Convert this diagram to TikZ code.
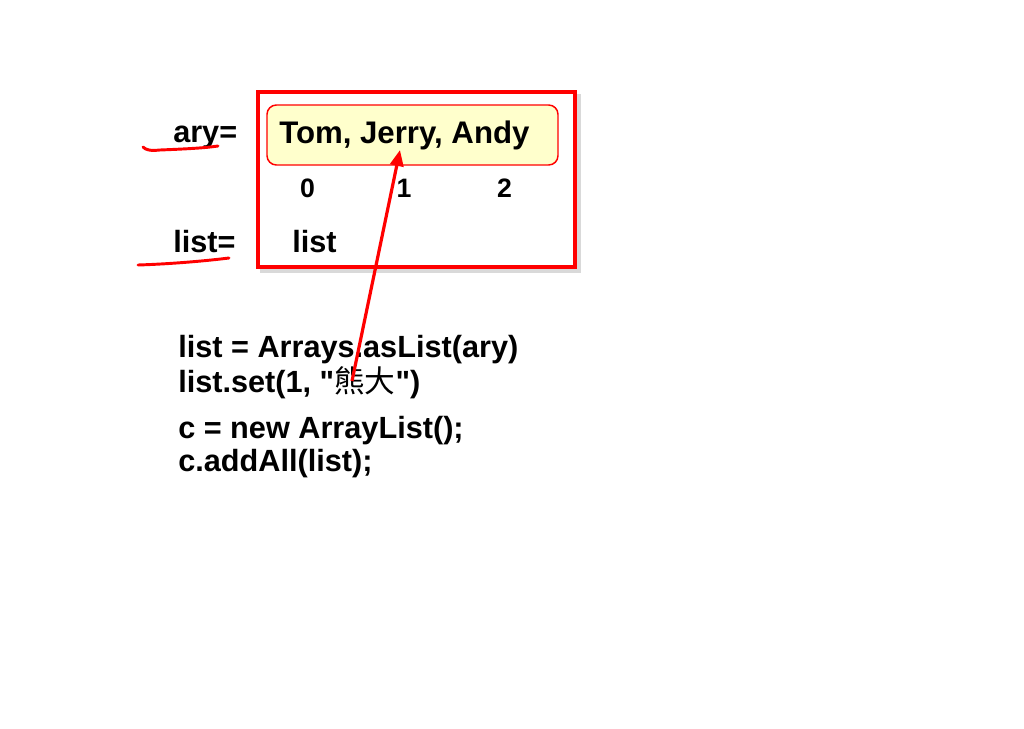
\documentclass[tikz,border=0pt]{standalone}
\usepackage{fontspec}
\setmainfont{Liberation Sans}
\newfontfamily\plainsans{Liberation Sans}
\newfontfamily\cjk{Noto Sans CJK TC}
\usetikzlibrary{arrows.meta}
\definecolor{boxyellow}{HTML}{FFFFCC}
\tikzset{
  big/.style={font=\bfseries\fontsize{23}{27}\selectfont, inner sep=0pt},
  idx/.style={font=\bfseries\fontsize{20}{24}\selectfont, inner sep=0pt, anchor=base},
  frame/.style={draw=red, line width=3pt},
  shadowline/.style={draw=black!15, line width=3pt},
  arrbox/.style={draw=red, line width=1.1pt, fill=boxyellow, rounded corners=7pt},
  pen/.style={red, line width=2.2pt, line cap=round},
  pointer/.style={red, line width=2.4pt, -{Triangle[length=12pt,width=10pt]}}
}
\begin{document}
\begin{tikzpicture}[x=0.75pt,y=-0.75pt]
\useasboundingbox[fill=white] (0,0) rectangle (1024,728);
% outer frame with faint shadow
\draw[shadowline] (261.5,95.5) rectangle (578.5,270.5);
\draw[frame, fill=white] (258,92) rectangle (575,267);
% array box
\draw[arrbox] (267,105) rectangle (558,165);
\node[big, anchor=base west, font=\bfseries\fontsize{23.4}{27}\selectfont] (tom) at (279,143) {Tom, Jerry, Andy};
% indices
\node[idx] (i0) at (307.5,197) {0};
\node[idx] (i1) at (404,197) {1};
\node[idx] (i2) at (504.5,197) {2};
% labels
\node[big, anchor=base west] (ary) at (173,142) {ary=};
\node[big, anchor=base west] (lst) at (173,252) {list=};
\node[big, anchor=base west] (lstv) at (292,252) {list};
% code
\node[big, anchor=base west] (c1) at (178,357) {list = Arrays.asList(ary)};
\node[big, anchor=base west] (c2) at (178,392) {\plainsans\bfseries list.set(1, "{\cjk\mdseries 熊大}")};
\node[big, anchor=base west] (c3) at (178,438) {c = new ArrayList();};
\node[big, anchor=base west] (c4) at (178,471) {c.addAll(list);};
% handwritten underlines
\draw[pen] (143,147) .. controls (146,150) and (150,151) .. (160,150) .. controls (185,149) and (205,148) .. (218,146);
\draw[pen] (138,265) .. controls (170,264) and (205,261) .. (229,258);
% pointer arrow
\coordinate (tail) at (352,381);
\coordinate (head) at (400,150);
\draw[pointer] (tail) -- (head);
\end{tikzpicture}
\end{document}
